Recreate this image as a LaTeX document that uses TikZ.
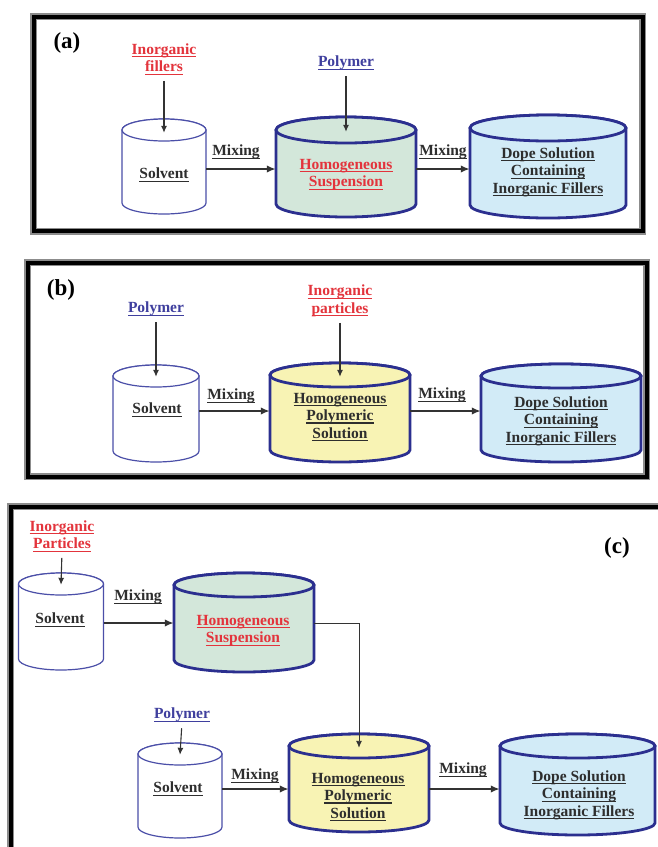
\documentclass[tikz,border=0pt]{standalone}
\usepackage{fontspec}
\setmainfont{Liberation Serif}
\usetikzlibrary{arrows.meta}
\definecolor{navy}{HTML}{2B2F8F}
\definecolor{solv}{HTML}{4B4FA8}
\definecolor{grn}{HTML}{D3E7DA}
\definecolor{yel}{HTML}{F8F3B4}
\definecolor{blu}{HTML}{D2EBF7}
\definecolor{txt}{HTML}{2E2E2E}
\definecolor{redt}{HTML}{E3343C}
\definecolor{bluet}{HTML}{3F3F9E}
\definecolor{arrc}{HTML}{333333}
\newcommand\ul[1]{\setbox0\hbox{#1}\hbox{\rlap{\rule[-3pt]{\wd0}{1.1pt}}\box0}}
\newcommand\drawcyl[6]{%
  \path[#1] ({#2-#3},#4) -- ({#2-#3},#5) arc[start angle=180,end angle=360,x radius=#3pt,y radius=#6pt]
     -- ({#2+#3},#4) arc[start angle=0,end angle=180,x radius=#3pt,y radius=#6pt] -- cycle;
  \path[#1] (#2,#4) ellipse[x radius=#3pt,y radius=#6pt];
}
\tikzset{
  every node/.style={font=\fontsize{15.5}{17.5}\selectfont\bfseries, text=txt, inner sep=0pt, align=center},
  panellbl/.style={font=\fontsize{23}{26}\selectfont\bfseries, text=black},
  redlbl/.style={text=redt},
  bluelbl/.style={text=bluet},
  anchorbox/.style={minimum width=#1pt, minimum height=70pt, draw=none},
  solvcyl/.style={draw=solv, line width=1.2pt, fill=white},
  grncyl/.style={draw=navy, line width=2.8pt, fill=grn},
  yelcyl/.style={draw=navy, line width=2.8pt, fill=yel},
  blucyl/.style={draw=navy, line width=2.8pt, fill=blu},
  mix/.style={-{Latex[length=9pt,width=7.5pt]}, line width=1.8pt, draw=arrc},
  feed/.style={-{Latex[length=7pt,width=6pt]}, line width=1.1pt, draw=arrc, shorten <=6pt},
  link/.style={-{Latex[length=7pt,width=6pt]}, line width=0.9pt, draw=arrc},
  frameg/.style={draw=black!45, line width=7pt},
  frameb/.style={draw=black, line width=4pt},
}
\begin{document}
\begin{tikzpicture}[x=1pt,y=-1pt]
\useasboundingbox[fill=white] (0,0) rectangle (658,847);
% ---------------- frames
\draw[frameg] (33.5,16.5) rectangle (642.5,231);
\draw[frameb] (33.5,16.5) rectangle (642.5,231);
\draw[frameg] (27.5,262.5) rectangle (646.5,476.5);
\draw[frameb] (27.5,262.5) rectangle (646.5,476.5);
\draw[frameg] (10.5,506.5) rectangle (664,852);
\draw[frameb] (10.5,506.5) rectangle (664,852);
% ================= (a)
\node[panellbl] (la) at (67,43) {(a)};
\drawcyl{solvcyl}{164}{42}{130}{203}{11}
\drawcyl{grncyl}{346}{70}{130}{204}{13}
\drawcyl{blucyl}{548}{78}{128}{205}{13}
\node[anchorbox=84, minimum height=72pt] (solA) at (164,169) {};
\node[anchorbox=140, minimum height=74pt] (grnA) at (346,169) {};
\node[anchorbox=156] (dopA) at (548,169) {};
\node (solAt) at (164,175) {\ul{Solvent}};
\node[redlbl] (grnAt) at (346,174.5) {\ul{Homogeneous}\\\ul{Suspension}};
\node (dopAt) at (548,172) {\ul{Dope Solution}\\\ul{Containing}\\\ul{Inorganic Fillers}};
\node[redlbl] (ifA) at (164,59) {\ul{Inorganic}\\\ul{fillers}};
\node[bluelbl] (polA) at (346,63) {\ul{Polymer}};
\draw[feed] (ifA.south) -- (solA.north);
\draw[feed] (polA.south) -- (grnA.north);
\node (mixA1) at (236,152) {\ul{Mixing}};
\node (mixA2) at (443,152) {\ul{Mixing}};
\draw[mix] (solA.east) -- (grnA.west);
\draw[mix] (grnA.east) -- (dopA.west);
% ================= (b)
\node[panellbl] (lb) at (61,290) {(b)};
\drawcyl{solvcyl}{156}{43}{376}{451}{11}
\drawcyl{yelcyl}{340}{70}{375}{450}{12}
\drawcyl{blucyl}{561}{80}{376}{450}{12}
\node[anchorbox=86, minimum height=68pt] (solB) at (156,411) {};
\node[anchorbox=140, minimum height=68pt] (yelB) at (340,411) {};
\node[anchorbox=160] (dopB) at (561,411) {};
\node (solBt) at (157,410) {\ul{Solvent}};
\node (yelBt) at (340,417) {\ul{Homogeneous}\\\ul{Polymeric}\\\ul{Solution}};
\node (dopBt) at (561,421) {\ul{Dope Solution}\\\ul{Containing}\\\ul{Inorganic Fillers}};
\node[bluelbl] (polB) at (156,309) {\ul{Polymer}};
\node[redlbl] (ipB) at (340,301) {\ul{Inorganic}\\\ul{particles}};
\draw[feed] (polB.south) -- (solB.north);
\draw[feed] (ipB.south) -- (yelB.north);
\node (mixB1) at (231,396) {\ul{Mixing}};
\node (mixB2) at (442,395) {\ul{Mixing}};
\draw[mix] (solB.east) -- (yelB.west);
\draw[mix] (yelB.east) -- (dopB.west);
% ================= (c)
\node[panellbl] (lc) at (617,548) {(c)};
\drawcyl{solvcyl}{61}{42.5}{584}{659}{11}
\drawcyl{grncyl}{244}{70}{585}{660}{12}
\drawcyl{solvcyl}{180}{42}{754}{827}{11}
\drawcyl{yelcyl}{359}{70}{746}{820}{12}
\drawcyl{blucyl}{577.5}{77.5}{746}{823}{12}
\node[anchorbox=85, minimum height=76pt] (solC1) at (61,623) {};
\node[anchorbox=140] (grnC) at (244,623) {};
\node[anchorbox=84, minimum height=68pt] (solC2) at (180,789) {};
\node[anchorbox=140, minimum height=82pt] (yelC) at (359,789) {};
\node[anchorbox=155] (dopC) at (577.5,789) {};
\node (solC1t) at (60,620) {\ul{Solvent}};
\node[redlbl] (grnCt) at (243,630.5) {\ul{Homogeneous}\\\ul{Suspension}};
\node (solC2t) at (178,789) {\ul{Solvent}};
\node (yelCt) at (358,797) {\ul{Homogeneous}\\\ul{Polymeric}\\\ul{Solution}};
\node (dopCt) at (579,795) {\ul{Dope Solution}\\\ul{Containing}\\\ul{Inorganic Fillers}};
\node[redlbl] (ipC) at (62,536) {\ul{Inorganic}\\\ul{Particles}};
\node[bluelbl] (polC) at (182,715) {\ul{Polymer}};
\draw[feed] (ipC.south) -- (solC1.north);
\draw[feed] (polC.south) -- (solC2.north);
\node (mixC1) at (138,597) {\ul{Mixing}};
\node (mixC2) at (255,776) {\ul{Mixing}};
\node (mixC3) at (463,770) {\ul{Mixing}};
\draw[mix] (solC1.east) -- (grnC.west);
\draw[link] (grnC.east) -| (yelC.north);
\draw[mix] (solC2.east) -- (yelC.west);
\draw[mix] (yelC.east) -- (dopC.west);
\end{tikzpicture}
\end{document}
